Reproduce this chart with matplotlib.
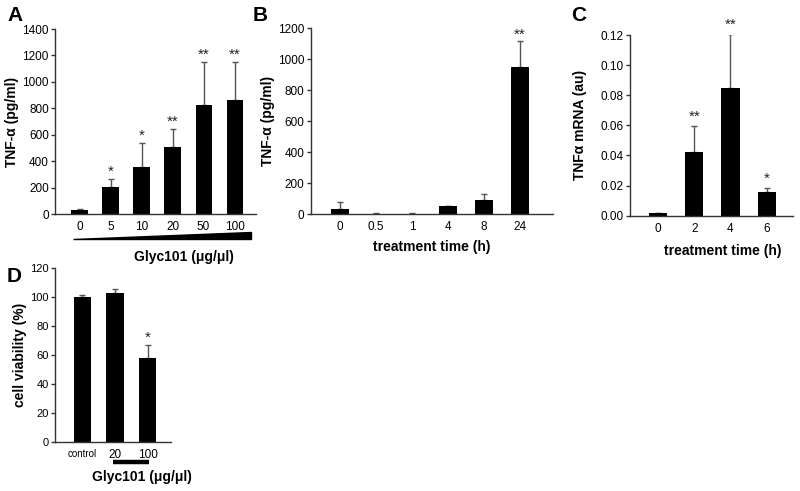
import matplotlib
matplotlib.use("Agg")
import matplotlib.pyplot as plt
import numpy as np

plt.rcParams['font.family'] = ['Liberation Sans', 'DejaVu Sans']

# ---- data ----
a_labels = ["0", "5", "10", "20", "50", "100"]
a_values = [30, 207, 355, 510, 827, 860]
a_err = [10, 57, 183, 134, 322, 289]
a_stars = ["", "*", "*", "**", "**", "**"]

b_labels = ["0", "0.5", "1", "4", "8", "24"]
b_values = [32, 5, 5, 52, 92, 953]
b_err = [46, 4, 5, 0, 36, 163]
b_stars = ["", "", "", "", "", "**"]

c_labels = ["0", "2", "4", "6"]
c_values = [0.0017, 0.0425, 0.0846, 0.0155]
c_err = [0.0, 0.017, 0.036, 0.003]
c_stars = ["", "**", "**", "*"]

d_labels = ["control", "20", "100"]
d_values = [100.5, 103, 58.3]
d_err = [1.0, 2.5, 8.7]
d_stars = ["", "", "*"]

W, H = 800, 491
fig = plt.figure(figsize=(8.0, 4.91), dpi=100)

def box(l, r, top, bot):
    return [l / W, 1 - bot / H, (r - l) / W, (bot - top) / H]

def style(ax):
    for s in ["top", "right"]:
        ax.spines[s].set_visible(False)
    for s in ["left", "bottom"]:
        ax.spines[s].set_color("#333333")
        ax.spines[s].set_linewidth(1.0)
    ax.tick_params(axis="y", direction="out", length=3, width=1, color="#333333",
                   labelsize=8.5, pad=1.5)
    ax.tick_params(axis="x", length=0, labelsize=8.5, pad=5)

def bars(ax, labels, vals, errs, stars, width, star_off, fs_star=11):
    x = np.arange(len(labels))
    ax.bar(x, vals, width=width, color="black", zorder=2)
    lo = np.zeros(len(vals))
    ax.errorbar(x, vals, yerr=[lo, errs], fmt="none", ecolor="#555555",
                elinewidth=1, capsize=2.5, capthick=1, zorder=1)
    for xi, v, e, s in zip(x, vals, errs, stars):
        if s:
            ax.text(xi, v + e + star_off, s, ha="center", va="center",
                    fontsize=fs_star, color="#222222")
    ax.set_xticks(x)
    ax.set_xticklabels(labels)

# ---- Panel A ----
axA = fig.add_axes(box(55, 256, 29, 214.3))
style(axA)
bars(axA, a_labels, a_values, a_err, a_stars, 0.52, 55)
axA.set_ylim(0, 1400)
axA.set_yticks(range(0, 1401, 200))
axA.set_xlim(-0.79, 5.69)
axA.set_ylabel("TNF-α (pg/ml)", fontsize=10, fontweight="bold", labelpad=2)
axA.fill([-0.2, 5.53, 5.53], [-0.133, -0.133, -0.096], color="black",
         transform=axA.get_xaxis_transform(), clip_on=False)
fig.text(184 / W, 1 - 256.7 / H, "Glyc101 (μg/μl)", ha="center", va="center",
         fontsize=10, fontweight="bold")
fig.text(7 / W, 1 - 15.5 / H, "A", ha="left", va="center", fontsize=15, fontweight="bold")

# ---- Panel B ----
axB = fig.add_axes(box(310.7, 553, 28.3, 214.3))
style(axB)
bars(axB, b_labels, b_values, b_err, b_stars, 0.52, 40)
axB.set_ylim(0, 1200)
axB.set_yticks(range(0, 1201, 200))
axB.set_xlim(-0.81, 5.92)
axB.set_ylabel("TNF-α (pg/ml)", fontsize=10, fontweight="bold", labelpad=2)
axB.set_xlabel("treatment time (h)", fontsize=10, fontweight="bold", labelpad=5)
fig.text(253 / W, 1 - 15.5 / H, "B", ha="left", va="center", fontsize=15, fontweight="bold")

# ---- Panel C ----
axC = fig.add_axes(box(630, 793, 35, 215.7))
style(axC)
bars(axC, c_labels, c_values, c_err, c_stars, 0.5, 0.006)
axC.set_ylim(0, 0.12)
axC.set_yticks(np.arange(0, 0.121, 0.02))
axC.set_yticklabels([f"{v:.2f}" for v in np.arange(0, 0.121, 0.02)])
axC.set_xlim(-0.78, 3.73)
axC.set_ylabel("TNFα mRNA (au)", fontsize=10, fontweight="bold", labelpad=10)
axC.set_xlabel("treatment time (h)", fontsize=10, fontweight="bold", labelpad=5)
axC.xaxis.set_label_coords((722.5 - 630) / (793 - 630), -0.155)
fig.text(571 / W, 1 - 15.5 / H, "C", ha="left", va="center", fontsize=15, fontweight="bold")

# ---- Panel D ----
axD = fig.add_axes(box(55, 170.7, 268.4, 442))
style(axD)
bars(axD, d_labels, d_values, d_err, d_stars, 0.53, 5)
axD.set_ylim(0, 120)
axD.set_yticks(range(0, 121, 20))
axD.set_xlim(-0.83, 2.70)
axD.tick_params(axis="y", labelsize=8)
axD.get_xticklabels()[0].set_fontsize(7)
axD.set_ylabel("cell viability (%)", fontsize=10, fontweight="bold", labelpad=2)
axD.plot([0.95, 2.05], [-0.115, -0.115], color="black", lw=3.2,
         transform=axD.get_xaxis_transform(), clip_on=False, solid_capstyle="butt")
fig.text(142 / W, 1 - 477 / H, "Glyc101 (μg/μl)", ha="center", va="center",
         fontsize=10, fontweight="bold")
fig.text(7 / W, 1 - 276 / H, "D", ha="left", va="center", fontsize=15, fontweight="bold")

fig.savefig("out.png", dpi=100)
